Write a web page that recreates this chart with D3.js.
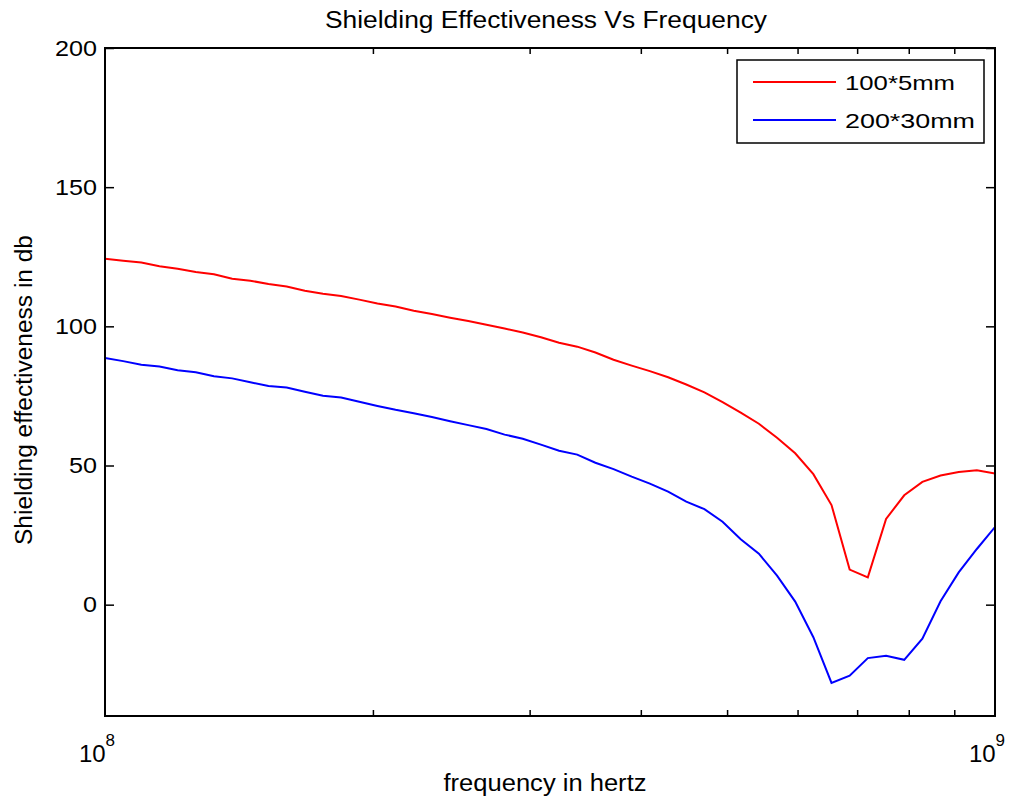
<!DOCTYPE html>
<html>
<head>
<meta charset="utf-8">
<script src="https://cdn.jsdelivr.net/npm/d3@7"></script>
<style>
  body { margin: 0; background: #fff; }
  text { font-family: "Liberation Sans", Arial, sans-serif; fill: #000; }
</style>
</head>
<body>
<div id="chart"></div>
<script>
// frequency points: 50 log-spaced samples between 1e8 and 1e9
const freqExp = [
  8.0000, 8.0204, 8.0408, 8.0612, 8.0816, 8.1020, 8.1224, 8.1429, 8.1633, 8.1837,
  8.2041, 8.2245, 8.2449, 8.2653, 8.2857, 8.3061, 8.3265, 8.3469, 8.3673, 8.3878,
  8.4082, 8.4286, 8.4490, 8.4694, 8.4898, 8.5102, 8.5306, 8.5510, 8.5714, 8.5918,
  8.6122, 8.6327, 8.6531, 8.6735, 8.6939, 8.7143, 8.7347, 8.7551, 8.7755, 8.7959,
  8.8163, 8.8367, 8.8571, 8.8776, 8.8980, 8.9184, 8.9388, 8.9592, 8.9796, 9.0000
];

const se100x5 = [
  124.3, 123.6, 122.9, 121.6, 120.7, 119.5, 118.7, 117.1, 116.4, 115.2,
  114.3, 112.8, 111.7, 110.9, 109.6, 108.2, 107.1, 105.6, 104.4, 103.1,
  101.9, 100.6, 99.2, 97.8, 96.1, 94.1, 92.7, 90.6, 88.0, 85.9,
  83.9, 81.7, 79.1, 76.3, 72.8, 69.0, 65.0, 60.0, 54.4, 46.9,
  35.8, 12.6, 9.8, 30.8, 39.3, 44.1, 46.4, 47.7, 48.3, 47.1
];

const se200x30 = [
  88.6, 87.5, 86.2, 85.6, 84.2, 83.5, 82.1, 81.3, 79.9, 78.6,
  78.0, 76.5, 75.1, 74.4, 72.9, 71.4, 70.0, 68.8, 67.4, 65.9,
  64.5, 63.1, 61.1, 59.6, 57.5, 55.3, 53.9, 51.0, 48.7, 46.0,
  43.5, 40.6, 37.0, 34.3, 29.8, 23.5, 18.3, 10.4, 1.1, -11.7,
  -28.1, -25.5, -19.2, -18.4, -19.8, -12.2, 1.2, 11.6, 20.0, 27.9
];

const seriesNames = ['100*5mm', '200*30mm'];
const seriesColors = ['#ff0000', '#0000ff'];
const yTicks = [0, 50, 100, 150, 200];
const xMinorTicks = [2e8, 3e8, 4e8, 5e8, 6e8, 7e8, 8e8, 9e8];

const W = 1019, H = 803;
const margin = { top: 48, right: 24, bottom: 87, left: 105 };
const width = W - margin.left - margin.right;
const height = H - margin.top - margin.bottom;

const svg = d3.select('#chart')
  .append('svg')
  .attr('width', W)
  .attr('height', H);

const g = svg.append('g')
  .attr('transform', `translate(${margin.left}, ${margin.top})`);

const xScale = d3.scaleLog()
  .domain([1e8, 1e9])
  .range([0, width]);

const yScale = d3.scaleLinear()
  .domain([-40, 200])
  .range([height, 0]);

// clip so the lines stay inside the box
g.append('clipPath').attr('id', 'clip')
  .append('rect').attr('width', width).attr('height', height);

const freqs = freqExp.map(e => Math.pow(10, e));
const allSeries = [se100x5, se200x30];

const line = d3.line()
  .x((d, i) => xScale(freqs[i]))
  .y(d => yScale(d));

allSeries.forEach((s, k) => {
  g.append('path')
    .datum(s)
    .attr('clip-path', 'url(#clip)')
    .attr('fill', 'none')
    .attr('stroke', seriesColors[k])
    .attr('stroke-width', 2)
    .attr('d', line);
});

// axes, ticks inward like matlab
const yLeft = d3.axisLeft(yScale).tickValues(yTicks).tickSizeInner(-9).tickSizeOuter(0).tickPadding(8);
const yRight = d3.axisRight(yScale).tickValues(yTicks).tickSizeInner(-9).tickSizeOuter(0).tickFormat('');
const xBottom = d3.axisBottom(xScale).tickValues(xMinorTicks).tickSizeInner(-6).tickSizeOuter(0).tickFormat('');
const xTop = d3.axisTop(xScale).tickValues(xMinorTicks).tickSizeInner(-6).tickSizeOuter(0).tickFormat('');

g.append('g').attr('class', 'y-axis').call(yLeft);
g.append('g').attr('transform', `translate(${width},0)`).call(yRight);
g.append('g').attr('transform', `translate(0,${height})`).call(xBottom);
g.append('g').call(xTop);

g.selectAll('.domain').remove();
g.selectAll('.tick line').attr('stroke', '#000').attr('stroke-width', 1.5);
// the reference text is a bit stretched sideways
g.selectAll('.y-axis text')
  .attr('font-size', 22)
  .attr('font-family', 'Liberation Sans, Arial, sans-serif')
  .attr('textLength', function() { return this.textContent.length * 14; })
  .attr('lengthAdjust', 'spacingAndGlyphs');

g.append('rect')
  .attr('width', width)
  .attr('height', height)
  .attr('fill', 'none')
  .attr('stroke', '#000')
  .attr('stroke-width', 2);

// decade labels 10^8 and 10^9
[1e8, 1e9].forEach(v => {
  const t = g.append('text')
    .attr('x', xScale(v) - 8)
    .attr('y', height + 46)
    .attr('text-anchor', 'middle')
    .attr('font-size', 24);
  t.append('tspan').text('10');
  t.append('tspan').attr('dy', -16).attr('font-size', 17).text(Math.round(Math.log10(v)));
});

// title and labels
svg.append('text')
  .attr('x', 546)
  .attr('y', 28)
  .attr('text-anchor', 'middle')
  .attr('font-size', 23)
  .attr('textLength', 442)
  .attr('lengthAdjust', 'spacingAndGlyphs')
  .text('Shielding Effectiveness Vs Frequency');

svg.append('text')
  .attr('x', 545)
  .attr('y', 791)
  .attr('text-anchor', 'middle')
  .attr('font-size', 23)
  .attr('textLength', 203)
  .attr('lengthAdjust', 'spacingAndGlyphs')
  .text('frequency in hertz');

svg.append('text')
  .attr('transform', `translate(32, 390) rotate(-90)`)
  .attr('text-anchor', 'middle')
  .attr('font-size', 23)
  .attr('textLength', 310)
  .attr('lengthAdjust', 'spacingAndGlyphs')
  .text('Shielding effectiveness in db');

// legend
const legend = g.append('g')
  .attr('transform', `translate(${width - 258}, 12)`);

legend.append('rect')
  .attr('width', 247)
  .attr('height', 83)
  .attr('fill', '#fff')
  .attr('stroke', '#000')
  .attr('stroke-width', 1.5);

const legendWidths = [110, 130];
seriesNames.forEach((name, k) => {
  const y = 22 + k * 38;
  legend.append('line')
    .attr('x1', 16).attr('x2', 99)
    .attr('y1', y).attr('y2', y)
    .attr('stroke', seriesColors[k])
    .attr('stroke-width', 2);
  legend.append('text')
    .attr('x', 108)
    .attr('y', y + 8)
    .attr('font-size', 21)
    .attr('textLength', legendWidths[k])
    .attr('lengthAdjust', 'spacingAndGlyphs')
    .text(name);
});
</script>
</body>
</html>
